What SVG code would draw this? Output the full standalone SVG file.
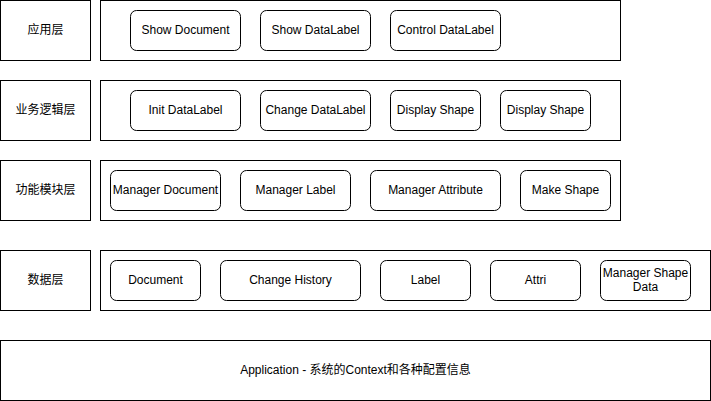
<svg xmlns="http://www.w3.org/2000/svg" width="711" height="401" viewBox="0 0 711 401">
<style>
.box{fill:#fff;stroke:#000;stroke-width:1}
.n{fill:#fff;stroke:#000;stroke-width:1}
text{font-family:"Liberation Sans","Noto Sans CJK SC",Arial,sans-serif;font-size:12px;fill:#000;text-anchor:middle;dominant-baseline:central}
</style>
<rect width="711" height="401" fill="#fff"/>
<g id="layers">
<g id="layer-app"><rect class="box" x="0.5" y="0.5" width="90" height="60"/><text x="45.5" y="29.5">应用层</text></g>
<g id="layer-app-c"><rect class="box" x="100.5" y="0.5" width="520" height="60"/></g>
<g id="layer-biz"><rect class="box" x="0.5" y="80.5" width="90" height="60"/><text x="45.5" y="109.5">业务逻辑层</text></g>
<g id="layer-biz-c"><rect class="box" x="100.5" y="80.5" width="520" height="60"/></g>
<g id="layer-func"><rect class="box" x="0.5" y="160.5" width="90" height="60"/><text x="45.5" y="189.5">功能模块层</text></g>
<g id="layer-func-c"><rect class="box" x="100.5" y="160.5" width="520" height="60"/></g>
<g id="layer-data"><rect class="box" x="0.5" y="250.5" width="90" height="60"/><text x="45.5" y="279.5">数据层</text></g>
<g id="layer-data-c"><rect class="box" x="100.5" y="250.5" width="610" height="60"/></g>
<g id="layer-application"><rect class="box" x="0.5" y="340.5" width="710" height="60"/><text x="355.5" y="369.5">Application - 系统的Context和各种配置信息</text></g>
</g>
<g id="nodes">
<g id="n-show-doc"><rect class="n" x="130.5" y="10.5" width="110" height="40" rx="6"/><text x="185.5" y="29.5">Show Document</text></g>
<g id="n-show-dl"><rect class="n" x="260.5" y="10.5" width="110" height="40" rx="6"/><text x="315.5" y="29.5">Show DataLabel</text></g>
<g id="n-ctrl-dl"><rect class="n" x="390.5" y="10.5" width="110" height="40" rx="6"/><text x="445.5" y="29.5">Control DataLabel</text></g>
<g id="n-init-dl"><rect class="n" x="130.5" y="90.5" width="110" height="40" rx="6"/><text x="185.5" y="109.5">Init DataLabel</text></g>
<g id="n-change-dl"><rect class="n" x="260.5" y="90.5" width="110" height="40" rx="6"/><text x="315.5" y="109.5">Change DataLabel</text></g>
<g id="n-display1"><rect class="n" x="390.5" y="90.5" width="90" height="40" rx="6"/><text x="435.5" y="109.5">Display Shape</text></g>
<g id="n-display2"><rect class="n" x="500.5" y="90.5" width="90" height="40" rx="6"/><text x="545.5" y="109.5">Display Shape</text></g>
<g id="n-mgr-doc"><rect class="n" x="110.5" y="170.5" width="110" height="40" rx="6"/><text x="165.5" y="189.5">Manager Document</text></g>
<g id="n-mgr-label"><rect class="n" x="240.5" y="170.5" width="110" height="40" rx="6"/><text x="295.5" y="189.5">Manager Label</text></g>
<g id="n-mgr-attr"><rect class="n" x="370.5" y="170.5" width="130" height="40" rx="6"/><text x="435.5" y="189.5">Manager Attribute</text></g>
<g id="n-make-shape"><rect class="n" x="520.5" y="170.5" width="90" height="40" rx="6"/><text x="565.5" y="189.5">Make Shape</text></g>
<g id="n-document"><rect class="n" x="110.5" y="260.5" width="90" height="40" rx="6"/><text x="155.5" y="279.5">Document</text></g>
<g id="n-change-hist"><rect class="n" x="220.5" y="260.5" width="140" height="40" rx="6"/><text x="290.5" y="279.5">Change History</text></g>
<g id="n-label"><rect class="n" x="380.5" y="260.5" width="90" height="40" rx="6"/><text x="425.5" y="279.5">Label</text></g>
<g id="n-attri"><rect class="n" x="490.5" y="260.5" width="90" height="40" rx="6"/><text x="535.5" y="279.5">Attri</text></g>
<g id="n-mgr-shape-data"><rect class="n" x="600.5" y="260.5" width="90" height="40" rx="6"/><text x="645.5" y="272.5">Manager Shape</text><text x="645.5" y="286.5">Data</text></g>
</g>
<g id="connectors"></g>
</svg>
